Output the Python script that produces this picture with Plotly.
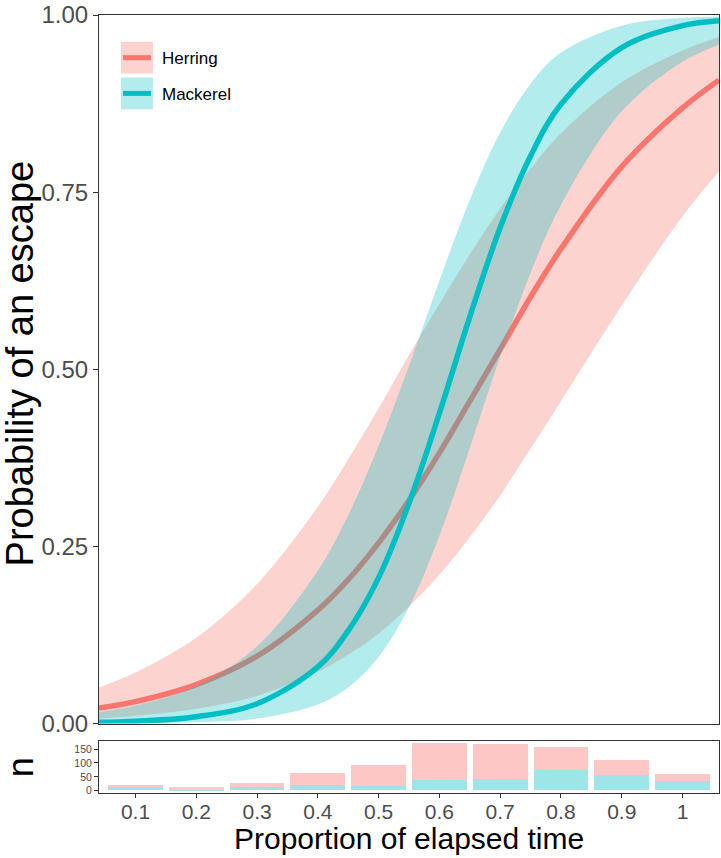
import plotly.graph_objects as go

# ---- fitted curves ----
x_grid = [0.04, 0.1, 0.2, 0.3, 0.4, 0.45, 0.5, 0.55, 0.6, 0.65, 0.7, 0.75, 0.8, 0.9, 1.0, 1.06]

herring_mean = [0.022, 0.031, 0.055, 0.095, 0.160, 0.203, 0.255, 0.315, 0.382, 0.455,
                0.528, 0.602, 0.670, 0.786, 0.869, 0.908]
herring_upper = [0.051, 0.072, 0.121, 0.197, 0.306, 0.373, 0.445, 0.520, 0.592, 0.662,
                 0.727, 0.783, 0.833, 0.905, 0.950, 0.969]
herring_lower = [0.007, 0.011, 0.021, 0.039, 0.073, 0.097, 0.127, 0.165, 0.210, 0.263,
                 0.322, 0.388, 0.455, 0.590, 0.716, 0.779]

mackerel_mean = [0.0017, 0.0033, 0.0096, 0.028, 0.080, 0.131, 0.206, 0.311, 0.438, 0.574,
                 0.700, 0.801, 0.874, 0.954, 0.985, 0.992]
mackerel_upper = [0.016, 0.025, 0.053, 0.109, 0.216, 0.294, 0.392, 0.505, 0.625, 0.739,
                  0.834, 0.903, 0.947, 0.985, 0.996, 0.998]
mackerel_lower = [0.0001, 0.0004, 0.0017, 0.007, 0.027, 0.051, 0.094, 0.164, 0.265, 0.389,
                  0.518, 0.636, 0.732, 0.864, 0.934, 0.958]

# ---- counts per time bin ----
bins = [0.1, 0.2, 0.3, 0.4, 0.5, 0.6, 0.7, 0.8, 0.9, 1.0]
bin_labels = ["0.1", "0.2", "0.3", "0.4", "0.5", "0.6", "0.7", "0.8", "0.9", "1"]
mackerel_n = [14, 1, 12, 20, 14, 37, 41, 73, 55, 34]
herring_n = [6, 12, 15, 44, 76, 132, 126, 82, 53, 24]

main_y_ticks = [0, 0.25, 0.5, 0.75, 1.0]
main_y_labels = ["0.00", "0.25", "0.50", "0.75", "1.00"]
n_ticks = [0, 50, 100, 150]

HER = "#F8766D"
MAC = "#00BFC4"
FONT = "Liberation Sans, Arial, sans-serif"

W, H = 721, 858
L, R, T, B = 99, 1, 9, 65
plot_h = H - T - B
plot_w = W - L - R


def py(px_y):
    return (H - B - px_y) / plot_h


def pxx(px_x):
    return (px_x - L) / plot_w


fig = go.Figure()

# herring ribbon + line
fig.add_trace(go.Scatter(x=x_grid, y=herring_lower, mode="lines", line=dict(width=0, shape="spline"),
                         showlegend=False, hoverinfo="skip", xaxis="x", yaxis="y"))
fig.add_trace(go.Scatter(x=x_grid, y=herring_upper, mode="lines", line=dict(width=0, shape="spline"),
                         fill="tonexty", fillcolor="rgba(248,118,109,0.32)",
                         showlegend=False, hoverinfo="skip", xaxis="x", yaxis="y"))
fig.add_trace(go.Scatter(x=x_grid, y=herring_mean, mode="lines", line=dict(width=5.5, color=HER, shape="spline"),
                         showlegend=False, xaxis="x", yaxis="y"))
# mackerel ribbon + line
fig.add_trace(go.Scatter(x=x_grid, y=mackerel_lower, mode="lines", line=dict(width=0, shape="spline"),
                         showlegend=False, hoverinfo="skip", xaxis="x", yaxis="y"))
fig.add_trace(go.Scatter(x=x_grid, y=mackerel_upper, mode="lines", line=dict(width=0, shape="spline"),
                         fill="tonexty", fillcolor="rgba(0,191,196,0.30)",
                         showlegend=False, hoverinfo="skip", xaxis="x", yaxis="y"))
fig.add_trace(go.Scatter(x=x_grid, y=mackerel_mean, mode="lines", line=dict(width=5.5, color=MAC, shape="spline"),
                         showlegend=False, xaxis="x", yaxis="y"))

# count bars (stacked)
fig.add_trace(go.Bar(x=bins, y=mackerel_n, width=0.09, marker=dict(color="#9FE4E6", line=dict(width=0)),
                     showlegend=False, xaxis="x2", yaxis="y2"))
fig.add_trace(go.Bar(x=bins, y=herring_n, width=0.09, marker=dict(color="#FCC7C4", line=dict(width=0)),
                     showlegend=False, xaxis="x2", yaxis="y2"))

xr = [0.04, 1.06]
main_dom = [py(723), 1.0]
sub_dom = [0.0, py(741)]

fig.update_layout(
    width=W, height=H,
    margin=dict(l=L, r=R, t=T, b=B),
    paper_bgcolor="white", plot_bgcolor="white",
    barmode="stack", bargap=0,
    font=dict(family=FONT, color="#4D4D4D"),
    xaxis=dict(domain=[0, 1], range=xr, showticklabels=False, ticks="", showgrid=False, zeroline=False,
               showline=True, mirror=True, linecolor="#333333", linewidth=1, anchor="y"),
    yaxis=dict(domain=main_dom, range=[0, 1], tickvals=main_y_ticks, ticktext=main_y_labels,
               ticks="outside", ticklen=5, tickcolor="#333333", tickfont=dict(size=24, color="#4D4D4D"),
               ticklabeloverflow="allow",
               showgrid=False, zeroline=False, showline=True, mirror=True, linecolor="#333333", linewidth=1,
               anchor="x"),
    xaxis2=dict(domain=[0, 1], range=xr, tickvals=bins, ticktext=bin_labels, ticks="outside", ticklen=4,
                tickcolor="#333333", tickfont=dict(size=21, color="#4D4D4D"), showgrid=False, zeroline=False,
                ticklabelstandoff=-4,
                showline=True, mirror=True, linecolor="#333333", linewidth=1, anchor="y2"),
    yaxis2=dict(domain=sub_dom, range=[-8.5, 178], tickvals=n_ticks, ticks="outside", ticklen=4,
                tickcolor="#333333", tickfont=dict(size=10.5, color="#4D4D4D"), showgrid=False, zeroline=False,
                showline=True, mirror=True, linecolor="#333333", linewidth=1, anchor="x2"),
)

annotations = [
    dict(text="Probability of an escape", x=pxx(20), y=py(360), xref="paper", yref="paper",
         textangle=-90, showarrow=False, font=dict(size=38, color="black", family=FONT),
         xanchor="center", yanchor="middle"),
    dict(text="n", x=pxx(20), y=py(767), xref="paper", yref="paper", textangle=-90, showarrow=False,
         font=dict(size=36, color="black", family=FONT), xanchor="center", yanchor="middle"),
    dict(text="Proportion of elapsed time", x=pxx(410), y=py(857), xref="paper", yref="paper",
         showarrow=False, font=dict(size=30, color="black", family=FONT), xanchor="center", yanchor="bottom"),
    dict(text="Herring", x=pxx(160), y=py(53), xref="paper", yref="paper", showarrow=False,
         font=dict(size=17, color="black", family=FONT), xanchor="left", yanchor="middle"),
    dict(text="Mackerel", x=pxx(160), y=py(89), xref="paper", yref="paper", showarrow=False,
         font=dict(size=17, color="black", family=FONT), xanchor="left", yanchor="middle"),
]
fig.update_layout(annotations=annotations)

shapes = []
for (y0, y1, fc, lc) in [(36, 68, "rgba(248,118,109,0.32)", HER), (72, 104, "rgba(0,191,196,0.30)", MAC)]:
    shapes.append(dict(type="rect", xref="paper", yref="paper", x0=pxx(121), x1=pxx(153), y0=py(y1), y1=py(y0),
                       fillcolor=fc, line=dict(width=0), layer="above"))
    ym = (y0 + y1) / 2
    shapes.append(dict(type="line", xref="paper", yref="paper", x0=pxx(123), x1=pxx(151), y0=py(ym), y1=py(ym),
                       line=dict(color=lc, width=5), layer="above"))
fig.update_layout(shapes=shapes)

fig.write_html("out.html", config={"displayModeBar": False},
               post_script="document.body.style.margin='0px';")
